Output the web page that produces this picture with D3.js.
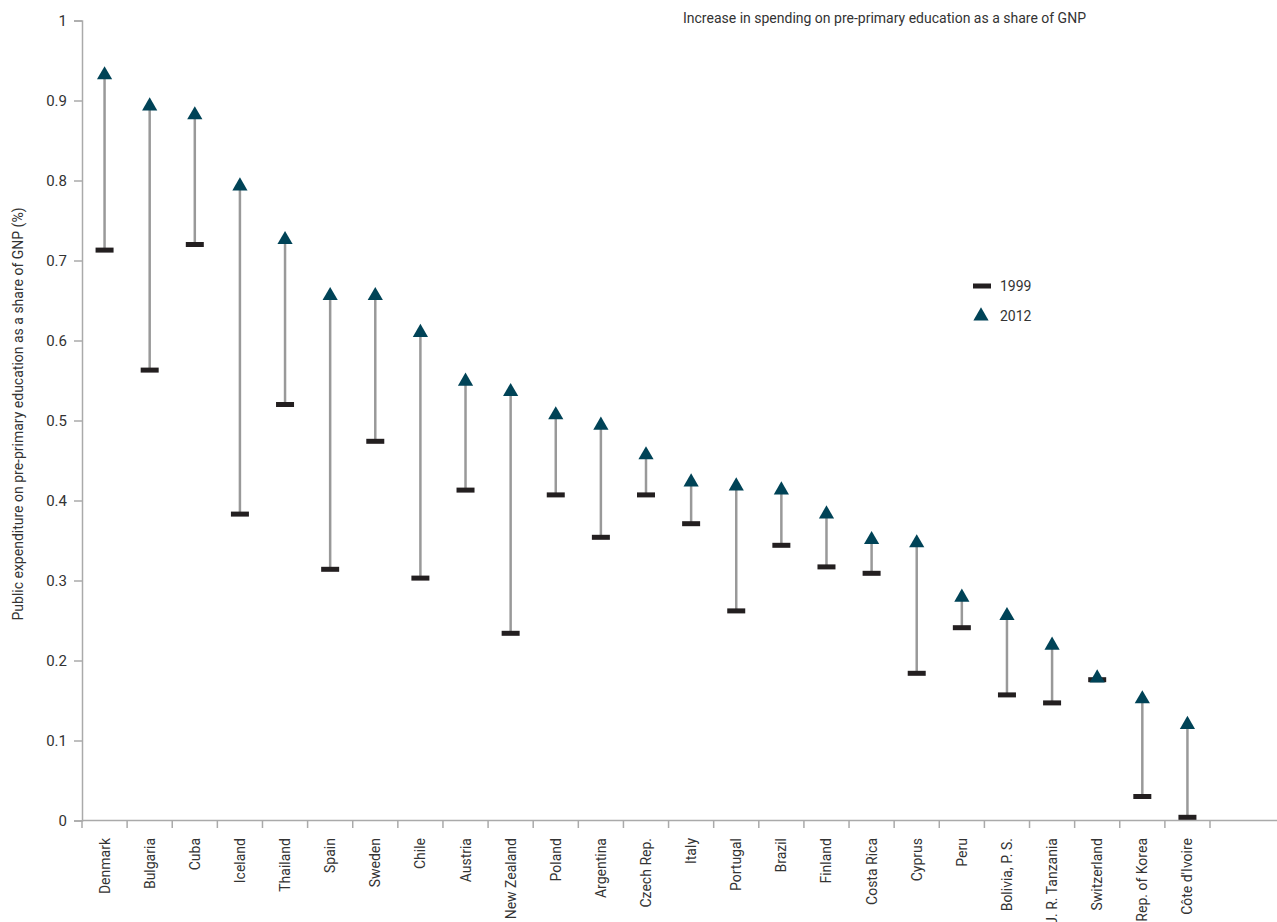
<!DOCTYPE html>
<html><head><meta charset="utf-8">
<script src="https://cdn.jsdelivr.net/npm/d3@7"></script>
<style>body{margin:0;background:#fff;} text{font-family:Roboto, "Liberation Sans", sans-serif;fill:#333;}</style>
</head><body>
<svg id="c" width="1277" height="922"></svg>
<script>
const countries = ["Denmark","Bulgaria","Cuba","Iceland","Thailand","Spain","Sweden","Chile","Austria","New Zealand","Poland","Argentina","Czech Rep.","Italy","Portugal","Brazil","Finland","Costa Rica","Cyprus","Peru","Bolivia, P. S.","J. R. Tanzania","Switzerland","Rep. of Korea","Côte d'Ivoire"];
const values1999 = [0.713,0.563,0.720,0.383,0.520,0.314,0.474,0.303,0.413,0.234,0.407,0.354,0.407,0.371,0.262,0.344,0.317,0.309,0.184,0.241,0.157,0.147,0.176,0.030,0.004];
const values2012 = [0.932,0.893,0.882,0.793,0.726,0.656,0.656,0.610,0.549,0.536,0.507,0.494,0.457,0.423,0.418,0.413,0.383,0.351,0.347,0.279,0.256,0.219,0.178,0.152,0.120];
const yTicks = [0,0.1,0.2,0.3,0.4,0.5,0.6,0.7,0.8,0.9,1];
const seriesNames = ["1999","2012"];

const svg = d3.select("#c");
const x = d3.scaleBand().domain(countries).range([82,1210]);
const y = d3.scaleLinear().domain([0,1]).range([820.5,20.5]);
const axisCol = "#aaa";

// y axis
const ya = svg.append("g").attr("transform","translate(82,0)")
  .call(d3.axisLeft(y).tickValues(yTicks).tickSize(8).tickPadding(7).tickFormat(d=>d3.format("")(+d.toFixed(1))));
ya.select(".domain").attr("stroke",axisCol).attr("stroke-width",1.5);
ya.selectAll(".tick line").attr("stroke",axisCol).attr("stroke-width",1.5);
ya.selectAll(".tick text").attr("font-size",15).attr("fill","#333");

// x axis
const xa = svg.append("g").attr("transform","translate(0,820.5)")
  .call(d3.axisBottom(x).tickSize(0).tickFormat(""));
xa.select(".domain").remove();
svg.append("line").attr("x1",82).attr("x2",1277).attr("y1",820.5).attr("y2",820.5).attr("stroke",axisCol).attr("stroke-width",1.5);
const edges = countries.map(c=>x(c)).concat([x.range()[1]]);
svg.append("g").selectAll("line").data(edges).join("line")
  .attr("x1",d=>d).attr("x2",d=>d).attr("y1",820.5).attr("y2",828).attr("stroke",axisCol).attr("stroke-width",1.5);
svg.append("g").selectAll("text").data(countries).join("text")
  .attr("transform",d=>`translate(${x(d)+x.bandwidth()/2+5},838) rotate(-90)`)
  .attr("text-anchor","end").attr("font-size",14).text(d=>d);

// stems
const g = svg.append("g");
g.selectAll("line.stem").data(countries).join("line").attr("class","stem")
  .attr("x1",(d)=>x(d)+x.bandwidth()/2).attr("x2",(d)=>x(d)+x.bandwidth()/2)
  .attr("y1",(d,i)=>y(values1999[i])).attr("y2",(d,i)=>y(values2012[i]))
  .attr("stroke","#999").attr("stroke-width",2.5);
// 1999 bars
g.selectAll("rect.b").data(countries).join("rect").attr("class","b")
  .attr("x",d=>x(d)+x.bandwidth()/2-9).attr("y",(d,i)=>y(values1999[i])-2.5)
  .attr("width",18).attr("height",5).attr("fill","#231f20");
// 2012 triangles
const tri = d3.symbol().type(d3.symbolTriangle).size(100);
g.selectAll("path.t").data(countries).join("path").attr("class","t")
  .attr("transform",(d,i)=>`translate(${x(d)+x.bandwidth()/2},${y(values2012[i])})`)
  .attr("d",tri).attr("fill","#004357");

// legend
const lg = svg.append("g");
lg.append("rect").attr("x",973).attr("y",283.5).attr("width",18).attr("height",5).attr("fill","#231f20");
lg.append("path").attr("transform","translate(981,316)").attr("d",tri).attr("fill","#004357");
lg.selectAll("text").data(seriesNames).join("text")
  .attr("x",1000).attr("y",(d,i)=>291+i*30).attr("font-size",14).text(d=>d);

// title
svg.append("text").attr("x",683).attr("y",23).attr("font-size",14).text("Increase in spending on pre-primary education as a share of GNP");
// y label
svg.append("text").attr("transform","translate(23,414) rotate(-90)").attr("text-anchor","middle").attr("font-size",14)
  .text("Public expenditure on pre-primary education as a share of GNP (%)");
</script>
</body></html>
